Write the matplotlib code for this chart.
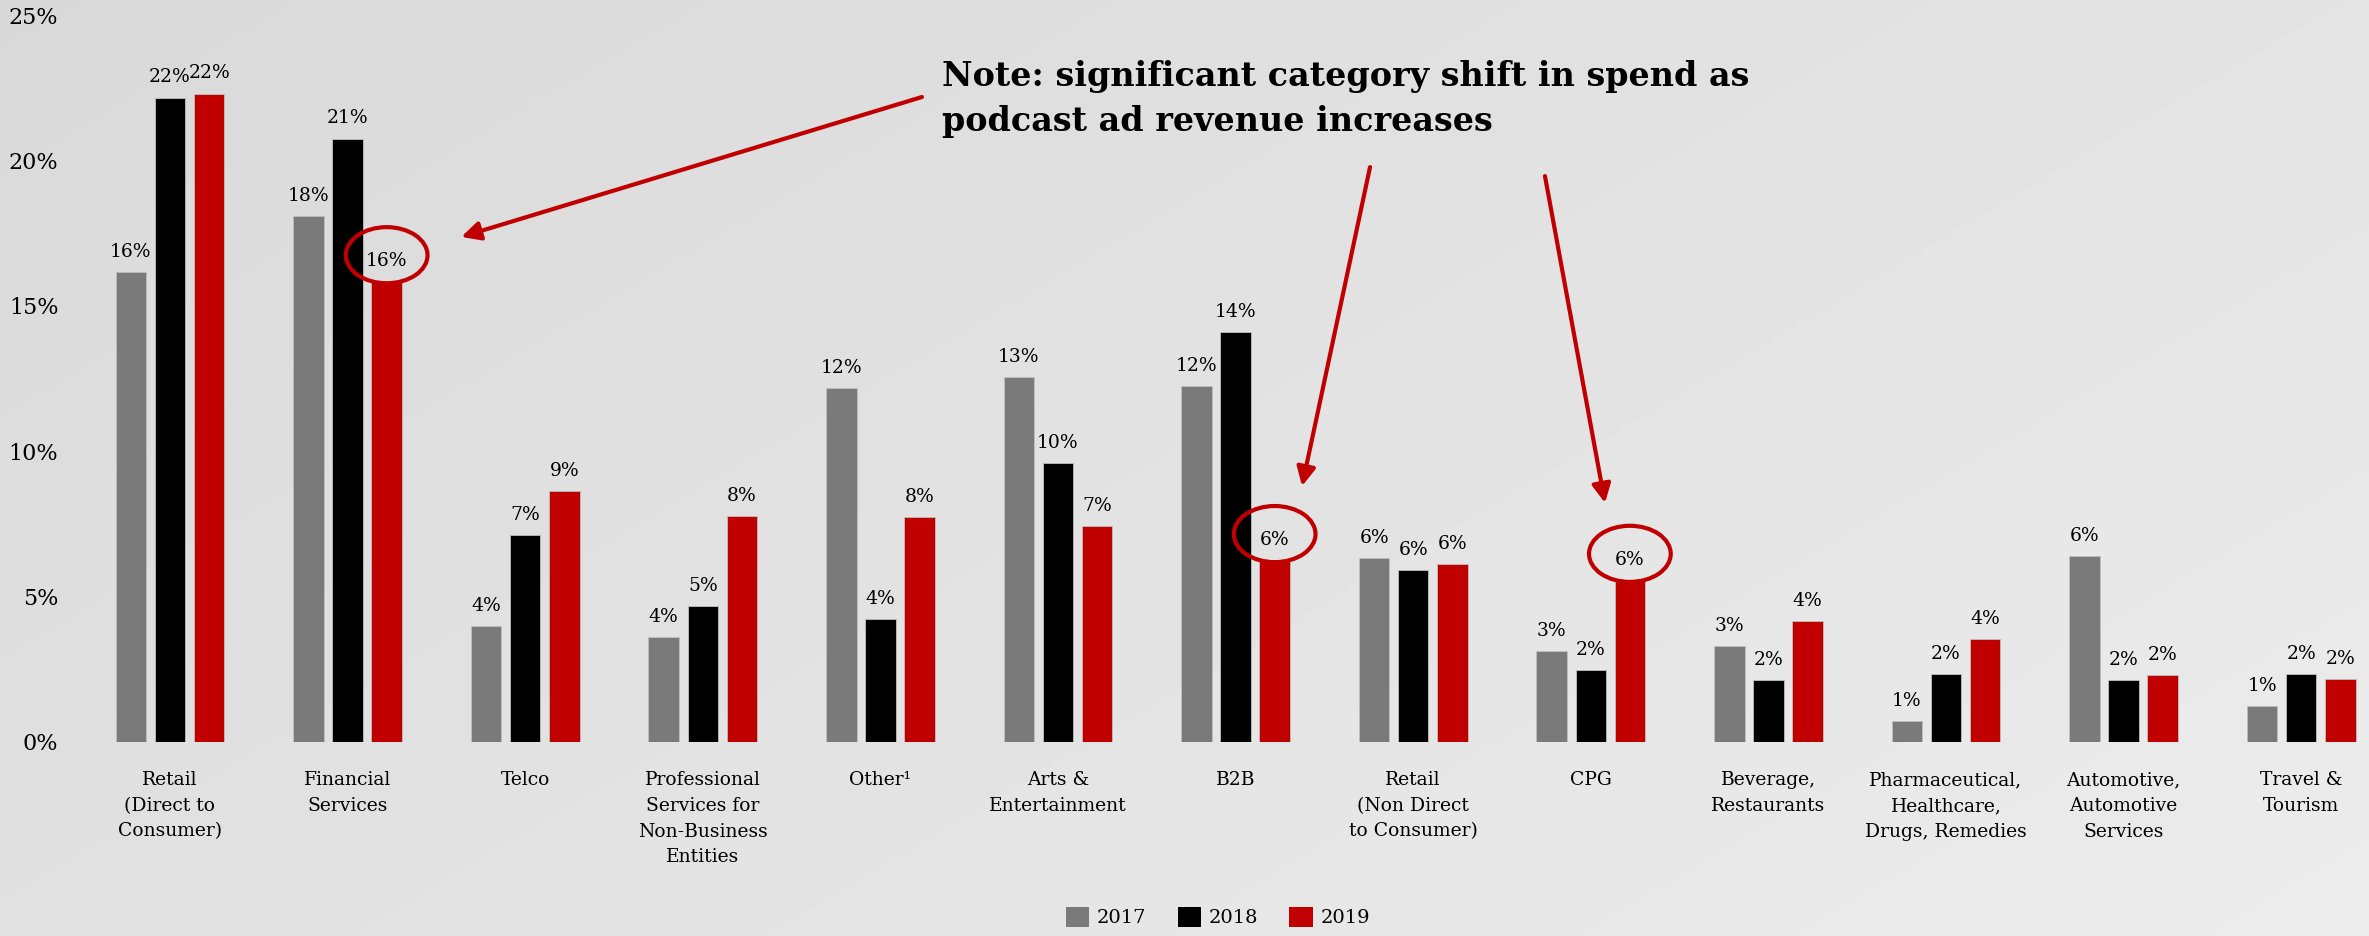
import numpy as np
import matplotlib.pyplot as plt
from matplotlib.patches import Ellipse, Patch

categories = ["Retail\n(Direct to\nConsumer)", "Financial\nServices", "Telco",
              "Professional\nServices for\nNon-Business\nEntities", "Other\u00b9",
              "Arts &\nEntertainment", "B2B", "Retail\n(Non Direct\nto Consumer)", "CPG",
              "Beverage,\nRestaurants", "Pharmaceutical,\nHealthcare,\nDrugs, Remedies",
              "Automotive,\nAutomotive\nServices", "Travel &\nTourism"]
years = ["2017", "2018", "2019"]
share_2017 = [16.15, 18.08, 3.99, 3.6, 12.16, 12.55, 12.23, 6.32, 3.13, 3.3, 0.72, 6.39, 1.24]
share_2018 = [22.16, 20.75, 7.11, 4.67, 4.23, 9.59, 14.09, 5.91, 2.47, 2.13, 2.34, 2.13, 2.34]
share_2019 = [22.3, 15.84, 8.63, 7.77, 7.73, 7.42, 6.25, 6.12, 5.57, 4.16, 3.54, 2.3, 2.16]
highlight = [1, 6, 8]  # 2019 bars that get circled
note = "Note: significant category shift in spend as\npodcast ad revenue increases"

colors = ["#7a7a7a", "#000000", "#c00000"]
red = "#c00000"
plt.rcParams["font.family"] = "DejaVu Serif"

W, H = 2369, 936
fig = plt.figure(figsize=(W / 100, H / 100), dpi=100)

# diagonal light-grey gradient background
bg = fig.add_axes([0, 0, 1, 1], zorder=-1)
yy, xx = np.mgrid[0:1:200j, 0:1:500j]
grad = 0.85 + 0.075 * (0.6 * xx + 0.4 * yy)
bg.imshow(grad, cmap="gray", vmin=0, vmax=1, aspect="auto", extent=[0, 1, 1, 0])
bg.axis("off")

ax = fig.add_axes([75 / W, (H - 742) / H, 1 - 75 / W, 727 / H])
ax.patch.set_alpha(0)

x = np.arange(len(categories))
stride, width = 0.22, 0.172
series = [share_2017, share_2018, share_2019]
for i, vals in enumerate(series):
    xs = x + (i - 1) * stride
    ax.bar(xs, vals, width=width, color=colors[i], edgecolor="#bfbfbf", linewidth=0.6, zorder=2)
    for xi, v in zip(xs, vals):
        ax.annotate(f"{round(v)}%", (xi, v), xytext=(0, 11), textcoords="offset points",
                    ha="center", va="baseline", fontsize=13.5, zorder=3)

for k in highlight:
    ax.add_patch(Ellipse((k + stride, share_2019[k] + 0.9), 0.46, 1.93, fill=False,
                         ec=red, lw=3, zorder=4))

ax.set_xlim(-(170 - 75) / 177.6, -(170 - 75) / 177.6 + (W - 75) / 177.6)
ax.set_ylim(0, 25)
ax.set_yticks(range(0, 26, 5))
ax.set_yticklabels([f"{t}%" for t in range(0, 26, 5)], fontsize=16)
ax.set_xticks(x)
ax.set_xticklabels(categories, fontsize=13.5, linespacing=1.55)
ax.tick_params(axis="both", length=0)
ax.tick_params(axis="y", pad=12)
ax.tick_params(axis="x", pad=21)
for s in ax.spines.values():
    s.set_visible(False)

fig.text(942 / W, 1 - 60 / H, note, fontsize=24, fontweight="bold", va="top", ha="left",
         linespacing=1.48)

# arrows from the note to the circled values
arrows = [((4.234, 22.18), (1.64, 17.37)),
          ((6.757, 19.77), (6.374, 8.80)),
          ((7.742, 19.46), (8.08, 8.22))]
for start, tip in arrows:
    ax.annotate("", xy=tip, xytext=start,
                arrowprops=dict(arrowstyle="-|>", color=red, lw=3, mutation_scale=28,
                                shrinkA=0, shrinkB=0), zorder=5)

handles = [Patch(facecolor=c, edgecolor="none") for c in colors]
fig.legend(handles, years, loc="center", bbox_to_anchor=(1218 / W, 19 / H), ncol=3,
           frameon=False, fontsize=14, handlelength=1.2, handleheight=1.2,
           handletextpad=0.4, columnspacing=1.6)

fig.savefig("out.png", dpi=100)
